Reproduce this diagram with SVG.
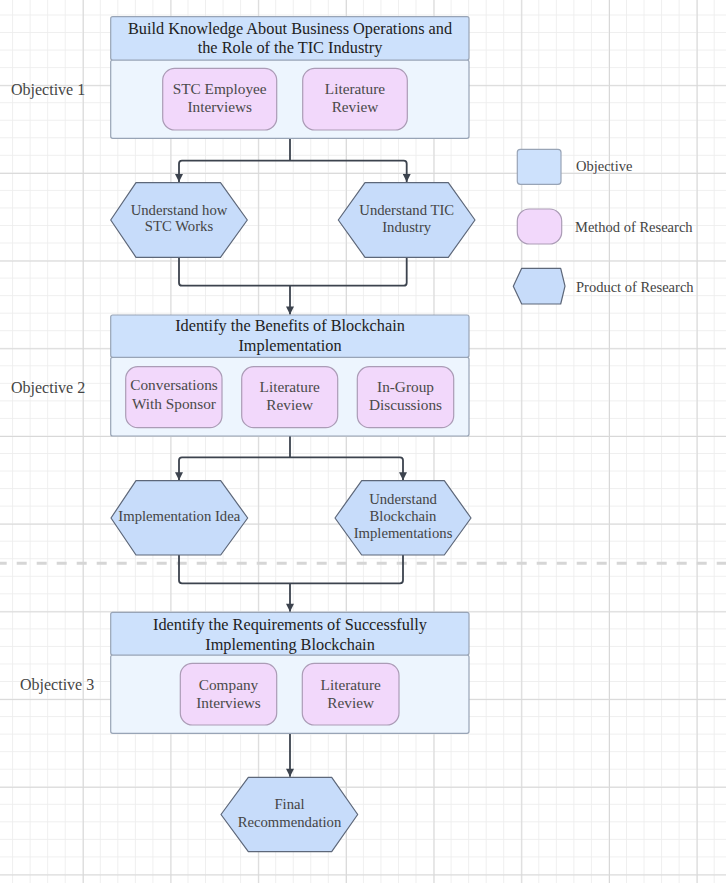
<svg xmlns="http://www.w3.org/2000/svg" width="726" height="883" viewBox="0 0 726 883">
<style>
text{font-family:"Liberation Serif","Times New Roman",serif;text-anchor:middle;fill:#454545}
.hd{font-size:16.3px;fill:#222}
.m{font-size:15.3px;fill:#4a4a4a}
.h{font-size:14.7px;fill:#444}
.lbl{font-size:16px;text-anchor:start;fill:#444}
.lg{font-size:14.5px;text-anchor:start;fill:#444}
.head{fill:#cde1fc;stroke:#98a4b6;stroke-width:1.2}
.body{fill:#edf5fe;stroke:#98a4b6;stroke-width:1.2}
.meth{fill:#f2d8fb;stroke:#ab9cb6;stroke-width:1.2}
.hex{fill:#c7dcfa;stroke:#5d6779;stroke-width:1.2;stroke-linejoin:round}
.c{fill:none;stroke:#3c434e;stroke-width:1.8}
</style>
<defs>
<pattern id="minor" patternUnits="userSpaceOnUse" x="12.1" y="14.5" width="17.54" height="17.54">
<rect x="0" y="0" width="0.8" height="17.54" fill="#ececec"/>
<rect x="0" y="0" width="17.54" height="0.8" fill="#ececec"/>
</pattern>
<pattern id="major" patternUnits="userSpaceOnUse" x="-4.9" y="-2.5" width="87.7" height="87.7">
<rect x="0" y="0" width="1" height="87.7" fill="#d8d8d8"/>
<rect x="0" y="0" width="87.7" height="1" fill="#d8d8d8"/>
</pattern>
<marker id="arr" markerUnits="userSpaceOnUse" markerWidth="9" markerHeight="8" viewBox="0 0 10 10" refX="10" refY="5" orient="auto">
<path d="M0 0 L10 5 L0 10 z" fill="#3c434e"/>
</marker>
</defs>
<rect width="726" height="883" fill="#ffffff"/>
<rect width="726" height="883" fill="url(#minor)"/>
<rect width="726" height="883" fill="url(#major)"/>
<line x1="0" y1="563.3" x2="726" y2="563.3" stroke="#d6d6d6" stroke-width="3" stroke-dasharray="10 10" stroke-dashoffset="3.3"/>

<g id="connectors">
<path class="c" d="M290 138.5 V160.7"/>
<path class="c" d="M290 160.7 H182 Q179 160.7 179 163.7 V182" marker-end="url(#arr)"/>
<path class="c" d="M290 160.7 H403.7 Q406.7 160.7 406.7 163.7 V182" marker-end="url(#arr)"/>
<path class="c" d="M179 257.3 V282.7 Q179 285.7 182 285.7 H403.7 Q406.7 285.7 406.7 282.7 V257.3"/>
<path class="c" d="M290 285.7 V314.5" marker-end="url(#arr)"/>
<path class="c" d="M290 436 V457.3"/>
<path class="c" d="M290 457.3 H182 Q179 457.3 179 460.3 V480.3" marker-end="url(#arr)"/>
<path class="c" d="M290 457.3 H400 Q403 457.3 403 460.3 V480.3" marker-end="url(#arr)"/>
<path class="c" d="M179 555 V580.3 Q179 583.3 182 583.3 H400 Q403 583.3 403 580.3 V555"/>
<path class="c" d="M290 583.3 V611.8" marker-end="url(#arr)"/>
<path class="c" d="M290 733.3 V776.8" marker-end="url(#arr)"/>
</g>

<g id="objective1">
<rect class="body" x="110.7" y="60" width="358.3" height="78.3" rx="2"/>
<rect class="head" x="110.7" y="16.7" width="358.3" height="43.3" rx="2"/>
<text class="hd" x="290" y="33.5">Build Knowledge About Business Operations and</text>
<text class="hd" x="290" y="52.5">the Role of the TIC Industry</text>
<text class="lbl" x="11" y="95">Objective 1</text>
</g>
<g id="m-stc-interviews">
<rect class="meth" x="162.7" y="68.3" width="114" height="61.7" rx="12"/>
<text class="m" x="219.7" y="94">STC Employee</text>
<text class="m" x="219.7" y="111.5">Interviews</text>
</g>
<g id="m-lit1">
<rect class="meth" x="302.7" y="68.3" width="104.6" height="61.7" rx="12"/>
<text class="m" x="355" y="94.3">Literature</text>
<text class="m" x="355" y="111.8">Review</text>
</g>
<g id="p-stc">
<polygon class="hex" points="136,182.7 220.5,182.7 247.3,220 220.5,257.3 136,257.3 110.7,220"/>
<text class="h" x="179" y="214.5">Understand how</text>
<text class="h" x="179" y="231">STC Works</text>
</g>
<g id="p-tic">
<polygon class="hex" points="365,182.7 448.3,182.7 475,220 448.3,257.3 365,257.3 338.3,220"/>
<text class="h" x="406.7" y="215">Understand TIC</text>
<text class="h" x="406.7" y="232.3">Industry</text>
</g>

<g id="objective2">
<rect class="body" x="110.7" y="357.3" width="358.3" height="78.7" rx="2"/>
<rect class="head" x="110.7" y="315" width="358.3" height="42.3" rx="2"/>
<text class="hd" x="290" y="331">Identify the Benefits of Blockchain</text>
<text class="hd" x="290" y="350.5">Implementation</text>
<text class="lbl" x="11" y="393">Objective 2</text>
</g>
<g id="m-sponsor">
<rect class="meth" x="125.7" y="366.7" width="96.3" height="61" rx="12"/>
<text class="m" x="174" y="390">Conversations</text>
<text class="m" x="174" y="409.3">With Sponsor</text>
</g>
<g id="m-lit2">
<rect class="meth" x="241.7" y="366.7" width="96" height="61" rx="12"/>
<text class="m" x="289.7" y="391.7">Literature</text>
<text class="m" x="289.7" y="410">Review</text>
</g>
<g id="m-ingroup">
<rect class="meth" x="357.3" y="366.7" width="96.4" height="61" rx="12"/>
<text class="m" x="405.5" y="391.7">In-Group</text>
<text class="m" x="405.5" y="410">Discussions</text>
</g>
<g id="p-idea">
<polygon class="hex" points="136,480.7 220.7,480.7 247.7,518 220.7,555 136,555 111,518"/>
<text class="h" x="179.3" y="520.5">Implementation Idea</text>
</g>
<g id="p-impl">
<polygon class="hex" points="361.7,480.7 444.3,480.7 471,518 444.3,555 361.7,555 335,518"/>
<text class="h" x="403" y="503.5">Understand</text>
<text class="h" x="403" y="520.7">Blockchain</text>
<text class="h" x="403" y="537.5">Implementations</text>
</g>

<g id="objective3">
<rect class="body" x="110.7" y="655" width="358.3" height="78.3" rx="2"/>
<rect class="head" x="110.7" y="612.3" width="358.3" height="42.7" rx="2"/>
<text class="hd" x="290" y="629.5">Identify the Requirements of Successfully</text>
<text class="hd" x="290" y="649.5">Implementing Blockchain</text>
<text class="lbl" x="20" y="690">Objective 3</text>
</g>
<g id="m-company">
<rect class="meth" x="180.3" y="663.3" width="96.4" height="61.7" rx="12"/>
<text class="m" x="228.5" y="689.5">Company</text>
<text class="m" x="228.5" y="708.3">Interviews</text>
</g>
<g id="m-lit3">
<rect class="meth" x="302.3" y="663.3" width="96.7" height="61.7" rx="12"/>
<text class="m" x="350.7" y="689.5">Literature</text>
<text class="m" x="350.7" y="708.3">Review</text>
</g>
<g id="p-final">
<polygon class="hex" points="248.3,777.3 331.7,777.3 357.7,814.5 331.7,851.7 248.3,851.7 221,814.5"/>
<text class="h" x="289.5" y="808.5">Final</text>
<text class="h" x="289.5" y="827">Recommendation</text>
</g>

<g id="legend">
<rect class="head" x="517.3" y="149.3" width="43.7" height="35" rx="3"/>
<text class="lg" x="576" y="170.7">Objective</text>
<rect class="meth" x="517.3" y="209" width="44.4" height="35" rx="12"/>
<text class="lg" x="575" y="231.7">Method of Research</text>
<polygon class="hex" points="521.7,268.3 560.7,268.3 565,286.2 560.7,304 521.7,304 513.3,286.2"/>
<text class="lg" x="576" y="291.7">Product of Research</text>
</g>
</svg>
